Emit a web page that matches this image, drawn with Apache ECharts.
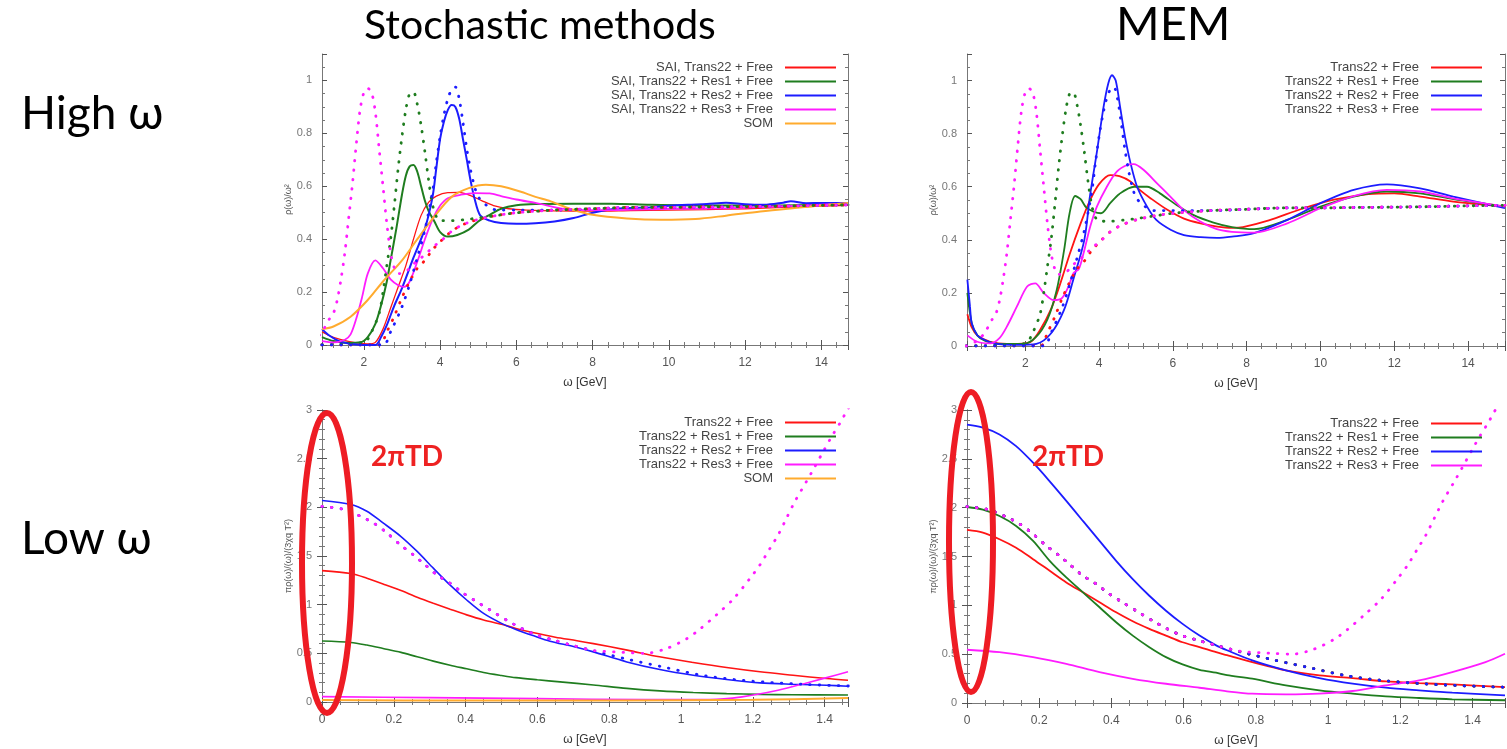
<!DOCTYPE html>
<html>
<head>
<meta charset="utf-8">
<title>Stochastic methods / MEM</title>
<script src="https://cdn.jsdelivr.net/npm/echarts@6/dist/echarts.min.js"></script>
<style>
  html, body { margin: 0; padding: 0; background: #fff; }
  #main { width: 1507px; height: 749px; }
</style>
</head>
<body>
<div id="main"></div>
<script>
// ---- input spectra (dotted), high omega, same in both top panels
const inTrans = [[0.4,0],[2.4,0],[2.6,0.05],[2.8,0.11],[3.0,0.18],[3.2,0.24],[3.4,0.29],[3.6,0.32],[3.8,0.36],[4.0,0.39],[4.3,0.43],[4.6,0.455],[5.0,0.475],[5.5,0.49],[6,0.5],[7,0.51],[8,0.515],[9,0.52],[10,0.52],[11,0.522],[12,0.523],[13,0.525],[14,0.528],[15,0.53]];
const inRes1 = [[0.4,0],[2.0,0.01],[2.2,0.05],[2.4,0.12],[2.5,0.2],[2.6,0.3],[2.7,0.4],[2.8,0.53],[2.9,0.67],[3.0,0.79],[3.1,0.89],[3.2,0.95],[3.3,0.955],[3.4,0.91],[3.5,0.83],[3.6,0.73],[3.7,0.62],[3.8,0.53],[3.9,0.485],[4.0,0.47],[4.3,0.47],[4.7,0.475],[5.0,0.48],[5.5,0.49],[6,0.5],[7,0.51],[8,0.515],[9,0.52],[10,0.52],[11,0.522],[12,0.523],[13,0.525],[14,0.528],[15,0.53]];
const inRes2 = [[0.4,0],[2.5,0],[2.7,0.05],[3.0,0.145],[3.2,0.23],[3.4,0.33],[3.6,0.435],[3.8,0.58],[3.9,0.69],[4.0,0.79],[4.1,0.87],[4.2,0.93],[4.3,0.965],[4.4,0.975],[4.5,0.93],[4.6,0.84],[4.7,0.74],[4.8,0.66],[4.9,0.6],[5.0,0.56],[5.2,0.53],[5.5,0.51],[6,0.51],[7,0.51],[8,0.515],[9,0.52],[10,0.52],[11,0.522],[12,0.523],[13,0.525],[14,0.528],[15,0.53]];
const inRes3 = [[0.4,0],[0.7,0.02],[0.9,0.05],[1.1,0.1],[1.2,0.12],[1.3,0.17],[1.4,0.25],[1.5,0.35],[1.6,0.48],[1.7,0.61],[1.8,0.76],[1.9,0.89],[2.0,0.955],[2.1,0.97],[2.2,0.955],[2.3,0.88],[2.4,0.74],[2.5,0.6],[2.6,0.46],[2.7,0.35],[2.8,0.29],[2.9,0.27],[3.0,0.27],[3.2,0.29],[3.4,0.32],[3.6,0.34],[3.8,0.37],[4.0,0.39],[4.3,0.43],[4.6,0.455],[5.0,0.475],[5.5,0.49],[6,0.5],[7,0.51],[8,0.515],[9,0.52],[10,0.52],[11,0.522],[12,0.523],[13,0.525],[14,0.528],[15,0.53]];

// ---- stochastic (SAI / SOM), high omega
const saiTrans = [[0.9,0.05],[1.1,0.035],[1.4,0.02],[1.8,0.008],[2.1,0.004],[2.3,0.01],[2.5,0.06],[2.7,0.14],[2.9,0.22],[3.1,0.3],[3.3,0.4],[3.5,0.49],[3.7,0.54],[3.9,0.563],[4.2,0.576],[4.5,0.577],[4.8,0.565],[5.1,0.545],[5.4,0.527],[5.8,0.515],[6.3,0.51],[7,0.507],[8,0.506],[9,0.508],[10,0.51],[11,0.512],[12,0.515],[13,0.52],[14,0.525],[14.7,0.528]];
const saiRes1 = [[0.9,0.03],[1.2,0.015],[1.6,0.008],[1.9,0.01],[2.1,0.03],[2.3,0.08],[2.45,0.15],[2.6,0.24],[2.7,0.32],[2.85,0.44],[3.0,0.57],[3.1,0.64],[3.2,0.675],[3.3,0.68],[3.4,0.655],[3.5,0.6],[3.6,0.545],[3.7,0.505],[3.85,0.467],[4.0,0.427],[4.2,0.41],[4.45,0.416],[4.75,0.436],[5.0,0.467],[5.3,0.492],[5.6,0.515],[6.0,0.528],[6.5,0.533],[7.5,0.534],[8.5,0.534],[9.5,0.53],[11,0.527],[12.5,0.527],[14,0.53],[14.7,0.532]];
const saiRes2 = [[0.9,0.06],[1.1,0.035],[1.4,0.012],[1.8,0.002],[2.3,0],[2.45,0.03],[2.6,0.075],[2.8,0.15],[3.0,0.215],[3.3,0.33],[3.6,0.44],[3.8,0.56],[3.9,0.67],[4.0,0.78],[4.1,0.845],[4.2,0.888],[4.3,0.907],[4.4,0.9],[4.5,0.855],[4.6,0.777],[4.7,0.7],[4.8,0.62],[4.9,0.555],[5.05,0.49],[5.3,0.47],[5.6,0.461],[6.0,0.458],[6.5,0.46],[7.0,0.467],[7.5,0.48],[8.0,0.5],[8.5,0.513],[9.0,0.518],[9.5,0.52],[10.0,0.526],[10.5,0.53],[11.0,0.533],[11.5,0.538],[12.0,0.532],[12.5,0.53],[13.0,0.538],[13.2,0.543],[13.6,0.536],[14.0,0.537],[14.7,0.537]];
const saiRes3 = [[0.9,0.015],[1.2,0.01],[1.5,0.02],[1.65,0.04],[1.8,0.1],[1.95,0.18],[2.1,0.27],[2.3,0.32],[2.5,0.29],[2.7,0.248],[2.9,0.226],[3.05,0.22],[3.2,0.24],[3.4,0.315],[3.6,0.4],[3.8,0.475],[4.0,0.527],[4.2,0.555],[4.55,0.568],[4.9,0.574],[5.3,0.573],[5.6,0.563],[6.0,0.55],[6.5,0.537],[7.4,0.512],[8.5,0.51],[10,0.515],[11.5,0.517],[12.5,0.522],[13.5,0.527],[14.7,0.535]];
const somHigh = [[0.9,0.06],[1.2,0.07],[1.65,0.107],[2.1,0.17],[2.5,0.24],[3.0,0.32],[3.4,0.4],[3.85,0.486],[4.3,0.56],[4.75,0.593],[5.2,0.606],[5.6,0.6],[6.1,0.58],[6.5,0.56],[6.9,0.543],[7.4,0.515],[8.0,0.492],[8.9,0.478],[9.8,0.473],[10.7,0.476],[11.5,0.489],[12.4,0.505],[13.3,0.518],[14.7,0.537]];

// ---- MEM, high omega
const memTrans = [[0.43,0.12],[0.55,0.07],[0.7,0.04],[1.05,0.016],[1.5,0.008],[1.8,0.008],[2.15,0.016],[2.4,0.06],[2.7,0.14],[2.95,0.236],[3.2,0.345],[3.5,0.462],[3.75,0.548],[4.0,0.61],[4.3,0.644],[4.55,0.64],[4.85,0.62],[5.1,0.588],[5.4,0.556],[5.85,0.513],[6.3,0.48],[6.75,0.462],[7.2,0.45],[7.6,0.445],[7.9,0.448],[8.6,0.473],[9.5,0.517],[10.4,0.552],[11.3,0.572],[12.0,0.575],[12.7,0.563],[13.6,0.544],[15,0.525]];
const memRes1 = [[0.43,0.2],[0.55,0.085],[0.7,0.04],[0.9,0.02],[1.3,0.008],[1.95,0.008],[2.3,0.035],[2.6,0.1],[2.85,0.21],[3.05,0.36],[3.2,0.5],[3.35,0.565],[3.5,0.553],[3.65,0.522],[3.85,0.506],[4.05,0.5],[4.3,0.538],[4.55,0.573],[4.95,0.6],[5.3,0.6],[5.65,0.575],[6.1,0.531],[6.55,0.494],[7.1,0.465],[7.6,0.448],[8.2,0.44],[9.1,0.475],[10.0,0.525],[10.9,0.563],[11.8,0.582],[12.7,0.575],[13.6,0.553],[15,0.525]];
const memRes2 = [[0.43,0.25],[0.5,0.15],[0.55,0.085],[0.7,0.04],[0.8,0.03],[1.15,0.01],[1.8,0.004],[2.3,0.008],[2.7,0.048],[3.05,0.136],[3.3,0.25],[3.6,0.4],[3.75,0.563],[3.95,0.74],[4.12,0.9],[4.25,0.99],[4.35,1.02],[4.45,1.0],[4.57,0.9],[4.7,0.79],[4.85,0.69],[5.03,0.6],[5.3,0.525],[5.55,0.475],[5.95,0.437],[6.3,0.418],[6.75,0.41],[7.2,0.407],[7.6,0.412],[8.2,0.425],[9.1,0.475],[10.0,0.538],[10.9,0.588],[11.8,0.609],[12.7,0.594],[13.6,0.563],[15,0.519]];
const memRes3 = [[0.43,0.04],[0.7,0.016],[1.05,0.01],[1.3,0.03],[1.5,0.073],[1.77,0.148],[2.05,0.224],[2.27,0.236],[2.5,0.2],[2.77,0.173],[2.99,0.18],[3.17,0.224],[3.31,0.275],[3.45,0.29],[3.58,0.35],[3.76,0.45],[3.94,0.525],[4.21,0.6],[4.48,0.657],[4.76,0.682],[4.94,0.685],[5.21,0.663],[5.57,0.613],[5.93,0.563],[6.29,0.513],[6.74,0.469],[7.19,0.44],[7.6,0.43],[8.2,0.427],[9.1,0.462],[10.0,0.519],[10.9,0.565],[11.8,0.588],[12.7,0.582],[13.6,0.556],[15,0.525]];

// ---- input spectra (dotted), low omega, same in both bottom panels
const lowIn = [[0,2.01],[0.06,1.98],[0.106,1.91],[0.143,1.84],[0.18,1.74],[0.218,1.615],[0.255,1.51],[0.287,1.41],[0.32,1.306],[0.357,1.22],[0.394,1.117],[0.431,1.03],[0.468,0.945],[0.514,0.842],[0.556,0.756],[0.598,0.687],[0.645,0.636],[0.7,0.58],[0.756,0.525],[0.85,0.44],[0.95,0.36],[1.05,0.28],[1.15,0.23],[1.25,0.2],[1.35,0.18],[1.5,0.16]];
const lowInRes3 = [[0,2.01],[0.06,1.98],[0.106,1.91],[0.143,1.84],[0.18,1.74],[0.218,1.615],[0.255,1.51],[0.287,1.41],[0.32,1.306],[0.357,1.22],[0.394,1.117],[0.431,1.03],[0.468,0.945],[0.514,0.842],[0.556,0.756],[0.598,0.687],[0.645,0.636],[0.7,0.58],[0.756,0.53],[0.84,0.51],[0.9,0.5],[0.96,0.55],[1.016,0.65],[1.053,0.75],[1.1,0.9],[1.146,1.06],[1.192,1.27],[1.22,1.41],[1.248,1.58],[1.271,1.72],[1.294,1.89],[1.317,2.06],[1.35,2.27],[1.37,2.4],[1.4,2.6],[1.42,2.73],[1.445,2.88],[1.46,2.98],[1.48,3.1]];

// ---- stochastic, low omega
const lowSaiTrans = [[0,1.35],[0.08,1.32],[0.125,1.272],[0.17,1.213],[0.22,1.145],[0.265,1.076],[0.31,1.014],[0.357,0.953],[0.403,0.895],[0.45,0.843],[0.5,0.799],[0.54,0.756],[0.59,0.711],[0.65,0.665],[0.71,0.63],[0.756,0.6],[0.85,0.533],[0.94,0.464],[1.034,0.406],[1.127,0.354],[1.22,0.31],[1.312,0.275],[1.405,0.241],[1.465,0.224]];
const lowSaiRes1 = [[0,0.626],[0.08,0.612],[0.125,0.585],[0.17,0.55],[0.22,0.51],[0.265,0.464],[0.31,0.42],[0.357,0.378],[0.403,0.341],[0.45,0.303],[0.5,0.272],[0.54,0.25],[0.6,0.228],[0.663,0.207],[0.756,0.175],[0.849,0.14],[0.941,0.114],[1.034,0.097],[1.127,0.086],[1.22,0.078],[1.31,0.075],[1.465,0.072]];
const lowSaiRes2 = [[0,2.07],[0.08,2.03],[0.125,1.96],[0.17,1.84],[0.22,1.7],[0.265,1.547],[0.31,1.375],[0.357,1.2],[0.403,1.048],[0.45,0.91],[0.5,0.808],[0.54,0.746],[0.59,0.68],[0.635,0.625],[0.7,0.57],[0.756,0.515],[0.849,0.412],[0.941,0.334],[1.034,0.275],[1.127,0.231],[1.22,0.196],[1.312,0.182],[1.405,0.172],[1.465,0.162]];
const lowSaiRes3 = [[0,0.055],[0.3,0.045],[0.6,0.035],[0.9,0.025],[1.08,0.025],[1.17,0.053],[1.27,0.12],[1.36,0.206],[1.43,0.275],[1.465,0.31]];
const lowSom = [[0,0.02],[0.4,0.015],[0.8,0.015],[1.2,0.022],[1.465,0.04]];

// ---- MEM, low omega
const lowMemTrans = [[0,1.772],[0.044,1.745],[0.09,1.677],[0.136,1.59],[0.183,1.473],[0.229,1.354],[0.275,1.235],[0.321,1.133],[0.367,1.031],[0.413,0.929],[0.459,0.837],[0.505,0.759],[0.551,0.69],[0.597,0.622],[0.644,0.572],[0.69,0.52],[0.72,0.49],[0.79,0.418],[0.883,0.334],[0.976,0.283],[1.068,0.255],[1.16,0.221],[1.252,0.204],[1.344,0.19],[1.49,0.163]];
const lowMemRes1 = [[0,2.007],[0.044,1.98],[0.09,1.914],[0.136,1.813],[0.183,1.66],[0.229,1.456],[0.275,1.286],[0.321,1.133],[0.367,0.98],[0.413,0.827],[0.459,0.69],[0.505,0.572],[0.551,0.47],[0.597,0.395],[0.644,0.34],[0.69,0.31],[0.72,0.285],[0.79,0.249],[0.883,0.18],[0.976,0.13],[1.068,0.096],[1.16,0.068],[1.252,0.051],[1.344,0.038],[1.49,0.028]];
const lowMemRes2 = [[0,2.85],[0.044,2.82],[0.09,2.75],[0.136,2.63],[0.183,2.46],[0.229,2.27],[0.275,2.07],[0.321,1.864],[0.367,1.66],[0.413,1.456],[0.459,1.268],[0.505,1.098],[0.551,0.945],[0.597,0.81],[0.644,0.69],[0.69,0.59],[0.72,0.54],[0.79,0.436],[0.883,0.334],[0.976,0.255],[1.068,0.198],[1.16,0.157],[1.252,0.13],[1.344,0.106],[1.49,0.079]];
const lowMemRes3 = [[0,0.545],[0.09,0.52],[0.183,0.469],[0.275,0.4],[0.367,0.316],[0.459,0.248],[0.551,0.197],[0.644,0.156],[0.72,0.12],[0.79,0.095],[0.883,0.089],[0.976,0.096],[1.068,0.123],[1.16,0.18],[1.252,0.231],[1.344,0.316],[1.436,0.418],[1.49,0.504]];

// legend names
const saiNames = ['SAI, Trans22 + Free', 'SAI, Trans22 + Res1 + Free', 'SAI, Trans22 + Res2 + Free', 'SAI, Trans22 + Res3 + Free', 'SOM'];
const memNames = ['Trans22 + Free', 'Trans22 + Res1 + Free', 'Trans22 + Res2 + Free', 'Trans22 + Res3 + Free'];
const lowSaiNames = ['Trans22 + Free', 'Trans22 + Res1 + Free', 'Trans22 + Res2 + Free', 'Trans22 + Res3 + Free', 'SOM'];

const RED = '#ff1414', GREEN = '#1f7d1f', BLUE = '#1c1cff', MAG = '#ff1cff', ORANGE = '#ffab2e';
const FONT = 'Liberation Sans';

function line(name, data, color, g, opts) {
  opts = opts || {};
  const dotted = !!opts.dotted;
  return {
    name: name, type: 'line', xAxisIndex: g, yAxisIndex: g,
    data: data, smooth: 0.3,
    showSymbol: false, symbol: 'none', silent: true,
    lineStyle: {
      color: color, width: opts.width || (dotted ? 2.8 : 1.6),
      type: dotted ? [0.5, 9] : 'solid', cap: dotted ? 'round' : 'butt'
    },
    itemStyle: { color: color },
    z: dotted ? 3 : 2
  };
}

const grids = [
  { left: 322, top: 54, width: 526, height: 291 },
  { left: 967, top: 54, width: 538, height: 292 },
  { left: 322, top: 410, width: 526, height: 292 },
  { left: 967, top: 410, width: 538, height: 293 }
];
const xRange = [[0.9, 14.7], [0.42, 15], [0, 1.465], [0, 1.49]];
const yMax = [1.1, 1.1, 3, 3];
const yStep = [0.2, 0.2, 0.5, 0.5];
const xMinor = [5, 5, 4, 4];
const yMinor = [4, 4, 5, 5];
const yNames = ['ρ(ω)/ω²', 'ρ(ω)/ω²', 'πρ(ω)/(ω)/(3χq T²)', 'πρ(ω)/(ω)/(3χq T²)'];

const xAxes = [], yAxes = [];
grids.forEach(function (g, i) {
  xAxes.push({
    type: 'value', gridIndex: i, min: xRange[i][0], max: xRange[i][1], splitNumber: 7,
    name: 'ω [GeV]', nameLocation: 'middle', nameGap: 32,
    nameTextStyle: { fontFamily: FONT, fontSize: 12, color: '#333' },
    axisLine: { show: true, lineStyle: { color: '#777' } },
    axisTick: { inside: true, length: 5, lineStyle: { color: '#555' } },
    minorTick: { show: true, splitNumber: xMinor[i], length: 3, lineStyle: { color: '#777' } },
    axisLabel: { fontFamily: FONT, fontSize: 12, color: '#555', margin: 12, showMinLabel: i >= 2, showMaxLabel: false },
    splitLine: { show: false }
  });
  yAxes.push({
    type: 'value', gridIndex: i, min: 0, max: yMax[i], interval: yStep[i],
    name: yNames[i], nameLocation: 'middle', nameGap: 18, nameRotate: 90,
    nameTextStyle: { fontFamily: FONT, fontSize: 9, color: '#555' },
    axisLine: { show: true, lineStyle: { color: '#777' } },
    axisTick: { inside: true, length: 5, lineStyle: { color: '#555' } },
    minorTick: { show: true, splitNumber: yMinor[i], length: 3, lineStyle: { color: '#777' } },
    axisLabel: { fontFamily: FONT, fontSize: 11, color: '#777', margin: 10, showMaxLabel: i >= 2 },
    splitLine: { show: false }
  });
});
// mirrored frame axes (top and right)
grids.forEach(function (g, i) {
  xAxes.push({
    type: 'value', gridIndex: i, position: 'top', min: xRange[i][0], max: xRange[i][1], splitNumber: 7,
    axisLine: { show: true, lineStyle: { color: '#777' } },
    axisTick: { inside: true, length: 5, lineStyle: { color: '#555' } },
    minorTick: { show: true, splitNumber: xMinor[i], length: 3, lineStyle: { color: '#777' } },
    axisLabel: { show: false }, splitLine: { show: false }
  });
  yAxes.push({
    type: 'value', gridIndex: i, position: 'right', min: 0, max: yMax[i], interval: yStep[i],
    axisLine: { show: true, lineStyle: { color: '#777' } },
    axisTick: { inside: true, length: 5, lineStyle: { color: '#555' } },
    minorTick: { show: true, splitNumber: yMinor[i], length: 3, lineStyle: { color: '#777' } },
    axisLabel: { show: false }, splitLine: { show: false }
  });
});

const series = [
  // top left: stochastic, high omega
  line('_inT0', inTrans, RED, 0, { dotted: true }),
  line('_inA0', inRes1, GREEN, 0, { dotted: true }),
  line('_inB0', inRes2, BLUE, 0, { dotted: true }),
  line('_inC0', inRes3, MAG, 0, { dotted: true }),
  line(saiNames[0], saiTrans, RED, 0, { width: 1.3 }),
  line(saiNames[1], saiRes1, GREEN, 0, { width: 2 }),
  line(saiNames[2], saiRes2, BLUE, 0, { width: 2 }),
  line(saiNames[3], saiRes3, MAG, 0, { width: 1.8 }),
  line(saiNames[4], somHigh, ORANGE, 0, { width: 2 }),
  // top right: MEM, high omega
  line('_inT1', inTrans, RED, 1, { dotted: true }),
  line('_inA1', inRes1, GREEN, 1, { dotted: true }),
  line('_inB1', inRes2, BLUE, 1, { dotted: true }),
  line('_inC1', inRes3, MAG, 1, { dotted: true }),
  line(memNames[0], memTrans, RED, 1, { width: 1.8 }),
  line(memNames[1], memRes1, GREEN, 1, { width: 1.8 }),
  line(memNames[2], memRes2, BLUE, 1, { width: 1.8 }),
  line(memNames[3], memRes3, MAG, 1, { width: 1.8 }),
  // bottom left: stochastic, low omega
  line('_inB2', lowIn, BLUE, 2, { dotted: true }),
  line('_inC2', lowInRes3, MAG, 2, { dotted: true }),
  line(lowSaiNames[0], lowSaiTrans, RED, 2),
  line(lowSaiNames[1], lowSaiRes1, GREEN, 2),
  line(lowSaiNames[2], lowSaiRes2, BLUE, 2),
  line(lowSaiNames[3], lowSaiRes3, MAG, 2),
  line(lowSaiNames[4], lowSom, ORANGE, 2, { width: 2 }),
  // bottom right: MEM, low omega
  line('_inT3', lowIn, RED, 3, { dotted: true }),
  line('_inA3', lowIn, GREEN, 3, { dotted: true }),
  line('_inB3', lowIn, BLUE, 3, { dotted: true }),
  line('_inC3', lowInRes3, MAG, 3, { dotted: true }),
  line(memNames[0], lowMemTrans, RED, 3, { width: 1.8 }),
  line(memNames[1], lowMemRes1, GREEN, 3, { width: 1.8 }),
  line(memNames[2], lowMemRes2, BLUE, 3, { width: 1.8 }),
  line(memNames[3], lowMemRes3, MAG, 3, { width: 1.8 })
];

function legend(names, right, top) {
  return {
    data: names, orient: 'vertical', align: 'right', right: right, top: top,
    padding: 0, itemGap: 1, itemWidth: 51, itemHeight: 2, icon: 'rect',
    selectedMode: false,
    textStyle: { fontFamily: FONT, fontSize: 13, color: '#444', padding: [0, 7, 0, 0] }
  };
}

const headText = { fontFamily: 'Lato', fontWeight: 'normal', fontSize: 41, color: '#000' };
const memText = { fontFamily: 'Lato', fontWeight: 'normal', fontSize: 47, color: '#000' };
const sideText = { fontFamily: 'Lato', fontWeight: 'normal', fontSize: 46, color: '#000' };
const tdText = { fontFamily: 'Lato', fontWeight: 'bold', fontSize: 28, color: '#ee2222' };

const option = {
  animation: false,
  backgroundColor: '#fff',
  title: [
    { text: 'Stochastic methods', left: 359, top: 0, textStyle: headText },
    { text: 'MEM', left: 1111, top: -4, textStyle: memText },
    { text: 'High ω', left: 16, top: 86, textStyle: sideText },
    { text: 'Low ω', left: 16, top: 511, textStyle: sideText },
    { text: '2πTD', left: 366, top: 438, textStyle: tdText },
    { text: '2πTD', left: 1027, top: 438, textStyle: tdText }
  ],
  grid: grids,
  xAxis: xAxes,
  yAxis: yAxes,
  legend: [
    legend(saiNames, 671, 61),
    legend(memNames, 25, 61),
    legend(lowSaiNames, 671, 416),
    legend(memNames, 25, 417)
  ],
  graphic: [
    { type: 'ellipse', shape: { cx: 327, cy: 563, rx: 25, ry: 150 }, style: { fill: 'none', stroke: '#ee1c24', lineWidth: 6 }, z: 100 },
    { type: 'ellipse', shape: { cx: 971, cy: 542, rx: 22, ry: 150 }, style: { fill: 'none', stroke: '#ee1c24', lineWidth: 6 }, z: 100 }
  ],
  series: series
};

const chart = echarts.init(document.getElementById('main'));
chart.setOption(option);
window.addEventListener('resize', function () { chart.resize(); });
</script>
</body>
</html>
